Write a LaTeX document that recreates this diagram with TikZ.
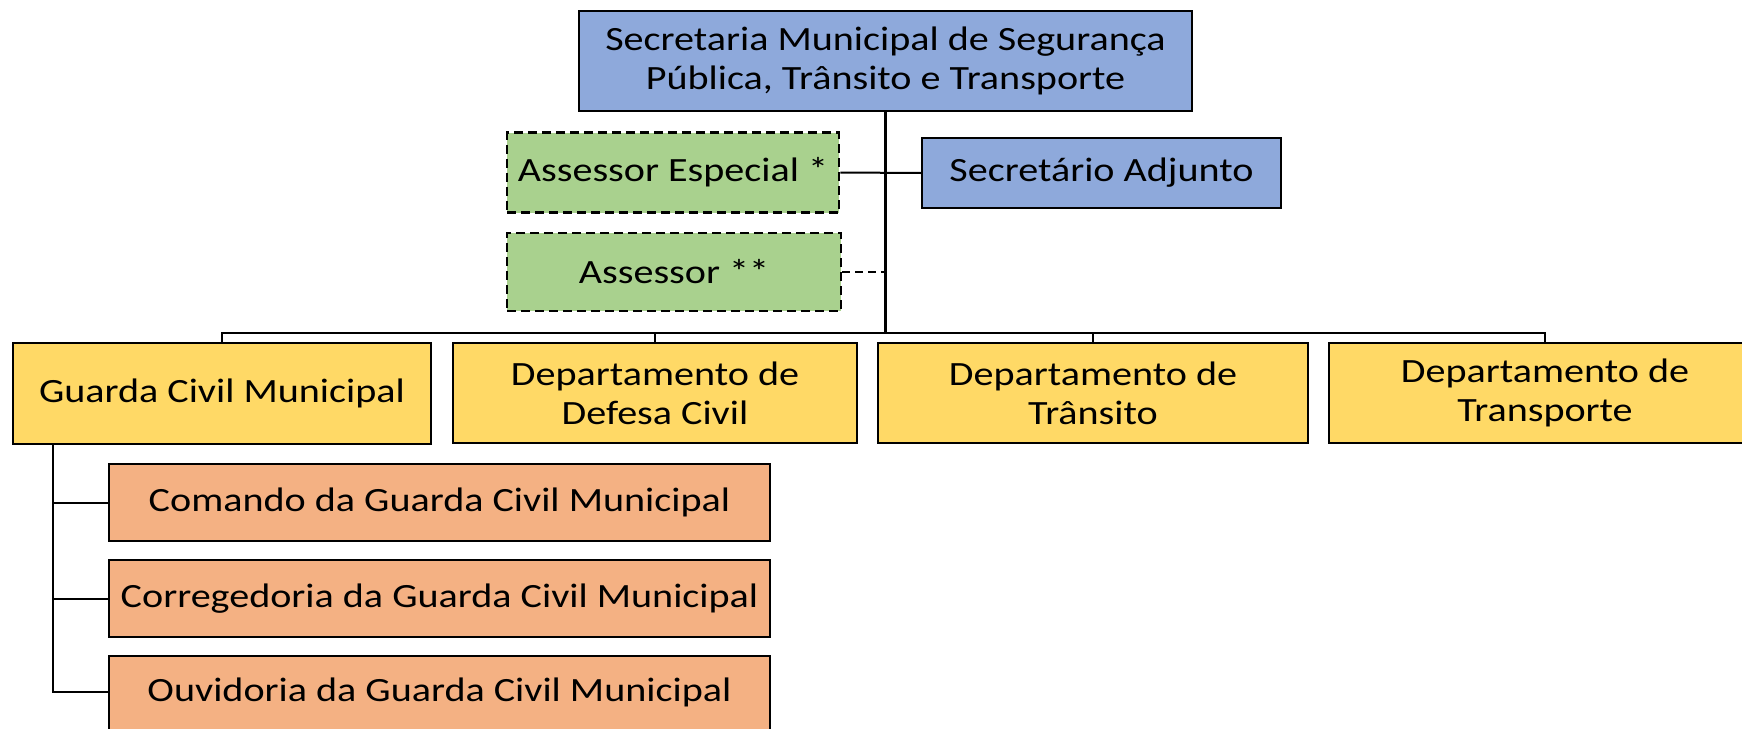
\documentclass[tikz,border=0pt]{standalone}
\usepackage{fontspec}
\setmainfont{Carlito}[FakeStretch=1.18]
\definecolor{cblue}{HTML}{8EA9DB}
\definecolor{cgreen}{HTML}{A9D18E}
\definecolor{cyellow}{HTML}{FFD966}
\definecolor{corange}{HTML}{F4B183}
\begin{document}
\begin{tikzpicture}[x=1pt,y=-1pt,
  box/.style={draw=black,line width=2.2pt,rectangle,inner sep=0pt,align=center,
    font=\fontsize{34}{39}\selectfont},
  bluebox/.style={box,fill=cblue},
  greenbox/.style={box,fill=cgreen,line width=2.6pt,dash pattern=on 9pt off 5pt},
  yellowbox/.style={box,fill=cyellow},
  orangebox/.style={box,fill=corange},
  conn/.style={draw=black,line width=2pt},
  trunk/.style={draw=black,line width=3pt},
  dconn/.style={conn,dash pattern=on 8pt off 5pt}]
\useasboundingbox (0,0) rectangle (1742,728);
% top
\node[bluebox,minimum width=613,minimum height=100] (top) at (885.5,61) {Secretaria Municipal de Segurança\\Pública, Trânsito e Transporte};
\node[greenbox,minimum width=332,minimum height=80] (ae) at (673,172.5) {Assessor Especial *};
\node[bluebox,minimum width=359,minimum height=70] (sa) at (1101.5,173) {Secretário Adjunto};
\node[greenbox,minimum width=334,minimum height=78] (as) at (674,272) {Assessor **};
% departments
\node[yellowbox,minimum width=418,minimum height=101] (gcm) at (222,393.5) {Guarda Civil Municipal};
\node[yellowbox,minimum width=404,minimum height=100] (ddc) at (655,393) {Departamento de\\Defesa Civil};
\node[yellowbox,minimum width=430,minimum height=100] (dtr) at (1093,393) {Departamento de\\Trânsito};
\node[yellowbox,minimum width=432,minimum height=100] (dtp) at (1545,393) {Departamento de\\Transporte};
% sub units
\node[orangebox,minimum width=661,minimum height=77] (com) at (439.5,502.5) {Comando da Guarda Civil Municipal};
\node[orangebox,minimum width=661,minimum height=77] (cor) at (439.5,598.5) {Corregedoria da Guarda Civil Municipal};
\node[orangebox,minimum width=661,minimum height=90,anchor=north] (ouv) at (439.5,655) {};
\node[font=\fontsize{34}{39}\selectfont] (ouvt) at (439.5,692) {Ouvidoria da Guarda Civil Municipal};
% connectors
\coordinate (bus) at (885.5,333);
\coordinate (gx) at (53,444);
\draw[trunk] (top.south) -- (bus);
\draw[conn] (ae.east) -- (sa.west);
\draw[dconn] (as.east) -- (as.east -| bus);
\draw[conn] (gcm.north) |- (bus) -| (dtp.north);
\draw[conn] (ddc.north) -- (ddc.north |- bus);
\draw[conn] (dtr.north) -- (dtr.north |- bus);
\draw[conn] (gx) |- (ouvt.west -| ouv.west);
\draw[conn] (gx |- com.west) -- (com.west);
\draw[conn] (gx |- cor.west) -- (cor.west);
\end{tikzpicture}
\end{document}
